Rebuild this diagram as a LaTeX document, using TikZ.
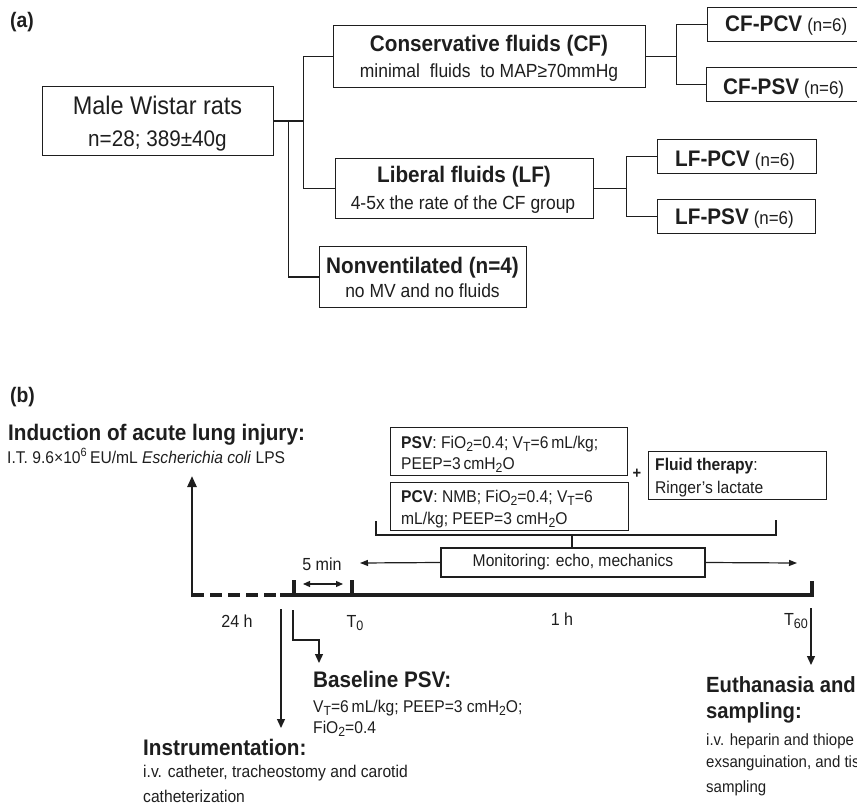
\documentclass[tikz,border=0pt]{standalone}
\usepackage{fontspec}
\setmainfont{Liberation Sans}[FakeStretch=0.92]
\usetikzlibrary{arrows.meta}
\newcommand{\fs}[1]{\fontsize{#1}{#1}\selectfont}
\newcommand{\sbs}[1]{\raisebox{-0.4ex}{\scalebox{0.78}{#1}}}
\definecolor{ink}{RGB}{30,30,30}
\begin{document}
\begin{tikzpicture}[x=1pt,y=-1pt, every node/.style={text=ink},
  box/.style={draw=ink, line width=1.3pt, inner sep=0pt, anchor=north west},
  t/.style={inner sep=0pt, anchor=base west},
  tc/.style={inner sep=0pt, anchor=base},
  conn/.style={draw=ink, line width=1.3pt},
  thin arrow/.style={draw=ink, line width=1.3pt, -{Triangle[length=9pt,width=8pt]}},
  hb/.style={font=\fs{22.5}\bfseries},
  sa/.style={font=\fs{19}},
  sb/.style={font=\fs{17}},
  tl/.style={font=\fs{17.5}}]
\useasboundingbox (0,0) rectangle (857,805);
\clip (0,0) rectangle (857,805);

% ---------------- (a) ----------------
\node[t, font=\fs{21}\bfseries] (la) at (10,28) {(a)};

\node[box, minimum width=231pt, minimum height=69pt] (mw) at (42,86) {};
\node[tc, font=\fs{25.5}] (mw1) at (157.5,115) {Male Wistar rats};
\node[tc, font=\fs{22.5}] (mw2) at (157.5,147) {n=28; 389±40g};

\node[box, minimum width=312pt, minimum height=62pt] (cf) at (333,25) {};
\node[tc, hb] (cf1) at (489,52) {Conservative fluids (CF)};
\node[tc, sa] (cf2) at (489,78) {minimal\ \ fluids\ \ to MAP≥70mmHg};

\node[box, minimum width=258pt, minimum height=60pt] (lf) at (335,158) {};
\node[tc, hb] (lf1) at (464,183) {Liberal fluids (LF)};
\node[tc, sa] (lf2) at (463,210) {4-5x the rate of the CF group};

\node[box, minimum width=207pt, minimum height=61pt] (nv) at (319,246) {};
\node[tc, hb] (nv1) at (422.5,273) {Nonventilated (n=4)};
\node[tc, sa] (nv2) at (422.5,298) {no MV and no fluids};

\node[box, minimum width=170pt, minimum height=34pt] (cfpcv) at (707,7) {};
\node[t] (cfpcvt) at (725,32) {{\fs{22.5}\bfseries CF-PCV}\hspace{5pt}{\fs{18.4}(n=6)}};
\node[box, minimum width=170pt, minimum height=34pt] (cfpsv) at (706,67) {};
\node[t] (cfpsvt) at (723,95) {{\fs{22.5}\bfseries CF-PSV}\hspace{5pt}{\fs{18.4}(n=6)}};
\node[box, minimum width=159pt, minimum height=34pt] (lfpcv) at (657,139) {};
\node[t] (lfpcvt) at (675,167) {{\fs{22.5}\bfseries LF-PCV}\hspace{5pt}{\fs{18.4}(n=6)}};
\node[box, minimum width=158pt, minimum height=34pt] (lfpsv) at (657,199) {};
\node[t] (lfpsvt) at (675,225) {{\fs{22.5}\bfseries LF-PSV}\hspace{5pt}{\fs{18.4}(n=6)}};

\coordinate (j1) at ([xshift=29pt]mw.east);
\coordinate (j2) at ([xshift=14pt]mw.east);
\draw[conn] (mw.east) -- (j1);
\draw[conn] (cf.west) -| (j1);
\draw[conn] (lf.west) -| (j1);
\draw[conn] (nv.west) -| (j2);
\coordinate (j3) at ([xshift=30pt]cf.east);
\draw[conn] (cf.east) -- (j3);
\draw[conn] (cfpcv.west) -| (j3);
\draw[conn] (cfpsv.west) -| (j3);
\coordinate (j4) at ([xshift=32pt]lf.east);
\draw[conn] (lf.east) -- (j4);
\draw[conn] (lfpcv.west) -| (j4);
\draw[conn] (lfpsv.west) -| (j4);

% ---------------- (b) ----------------
\node[t, font=\fs{21}\bfseries] (lb) at (10,402) {(b)};
\node[t, hb] (ind1) at (8,440) {Induction of acute lung injury:};
\node[t, sb] (ind2) at (7,463) {I.T. 9.6×10\textsuperscript{6}\,EU/mL \textit{Escherichia coli} LPS};

\node[box, minimum width=237pt, minimum height=48pt] (psv) at (390,427) {};
\node[t, sb] (psv1) at (401,448) {\textbf{PSV}: FiO\sbs{2}=0.4; V\sbs{T}=6\,mL/kg;};
\node[t, sb] (psv2) at (401,469) {PEEP=3\,cmH\sbs{2}O};
\node[box, minimum width=238pt, minimum height=48pt] (pcv) at (390,482) {};
\node[t, sb] (pcv1) at (401,502) {\textbf{PCV}: NMB; FiO\sbs{2}=0.4; V\sbs{T}=6};
\node[t, sb] (pcv2) at (401,524) {mL/kg; PEEP=3 cmH\sbs{2}O};
\node[inner sep=0pt, font=\fs{16}\bfseries] (plus) at (637,474) {+};
\node[box, minimum width=178pt, minimum height=48pt] (fl) at (648,451) {};
\node[t, sb] (fl1) at (655,470) {\textbf{Fluid therapy}:};
\node[t, sb] (fl2) at (655,493) {Ringer’s lactate};

\coordinate (bra) at (376,521);
\coordinate (brb) at (776,520);
\coordinate (brm) at (572,535);
\draw[ink, line width=1.2pt] (bra) -- (bra |- brm) -- (brb |- brm) -- (brb);
\node[draw=ink, line width=1.3pt, minimum width=264pt, minimum height=29pt, inner sep=0pt, sb] (mon) at (573,562.5) {Monitoring: echo, mechanics};
\draw[ink, line width=1.2pt] (brm) -- (brm |- mon.north);
\coordinate (monl) at (360,563);
\coordinate (monr) at (797,563);
\draw[ink, line width=1.2pt, -{Triangle[length=8pt,width=6pt]}] (mon.west) -- (monl);
\draw[ink, line width=1.2pt, -{Triangle[length=8pt,width=6pt]}] (mon.east) -- (monr);

% timeline
\coordinate (ind) at (192,476);
\coordinate (tl0) at (192,595);
\coordinate (tl1) at (280,595);
\coordinate (tl2) at (812,595);
\coordinate (tl3) at (812,581);
\draw[ink, line width=2.5pt, -{Triangle[length=11pt,width=9pt]}] ([yshift=-2pt]tl0) -- (ind);
\draw[ink, line width=4pt, dash pattern=on 12pt off 6pt] (tl0) -- (tl1);
\draw[ink, line width=4pt] (tl1) -- (tl2) -- (tl3);
\coordinate (k1) at (294,580);
\coordinate (k2) at (352,580);
\draw[ink, line width=3.5pt] (k1) -- (k1 |- tl0);
\draw[ink, line width=3.5pt] (k2) -- (k2 |- tl0);
\coordinate (d1) at (303,584);
\coordinate (d2) at (343,584);
\draw[ink, line width=1.2pt, {Triangle[length=7pt,width=6pt]}-{Triangle[length=7pt,width=6pt]}] (d1) -- (d2);
\node[tc, tl] (fivemin) at (322,570) {5 min};
\node[tc, tl] (h24) at (237,627) {24 h};
\node[tc, tl] (t0) at (355,627) {T\sbs{0}};
\node[tc, tl] (h1) at (562,625) {1 h};
\node[inner sep=0pt, anchor=base east, tl] (t60) at (808,625) {T\sbs{60}};

% lower arrows
\coordinate (ia) at (281,609);
\coordinate (ib) at (281,728);
\draw[thin arrow] (ia) -- (ib);
\coordinate (ba) at (293,610);
\coordinate (bb) at (319,640);
\coordinate (bc) at (319,663);
\draw[thin arrow] (ba) |- (bb) -- (bc);
\coordinate (ea) at (811,608);
\coordinate (eb) at (811,665);
\draw[thin arrow] (ea) -- (eb);

\node[t, hb] (bl1) at (313,687) {Baseline PSV:};
\node[t, sb] (bl2) at (313,712) {V\sbs{T}=6\,mL/kg; PEEP=3 cmH\sbs{2}O;};
\node[t, sb] (bl3) at (313,733) {FiO\sbs{2}=0.4};

\node[t, hb] (in1) at (143,755) {Instrumentation:};
\node[t, sb] (in2) at (143,777) {i.v. catheter, tracheostomy and carotid};
\node[t, sb] (in3) at (143,802) {catheterization};

\node[t, font=\fs{22}\bfseries] (eu1) at (706,692) {Euthanasia and};
\node[t, font=\fs{22}\bfseries] (eu2) at (706,718) {sampling:};
\node[t, font=\fs{16.3}] (eu3) at (706,745) {i.v. heparin and thiope};
\node[t, font=\fs{16.3}] (eu4) at (706,767) {exsanguination, and tis};
\node[t, font=\fs{16.3}] (eu5) at (706,792) {sampling};
\end{tikzpicture}
\end{document}
